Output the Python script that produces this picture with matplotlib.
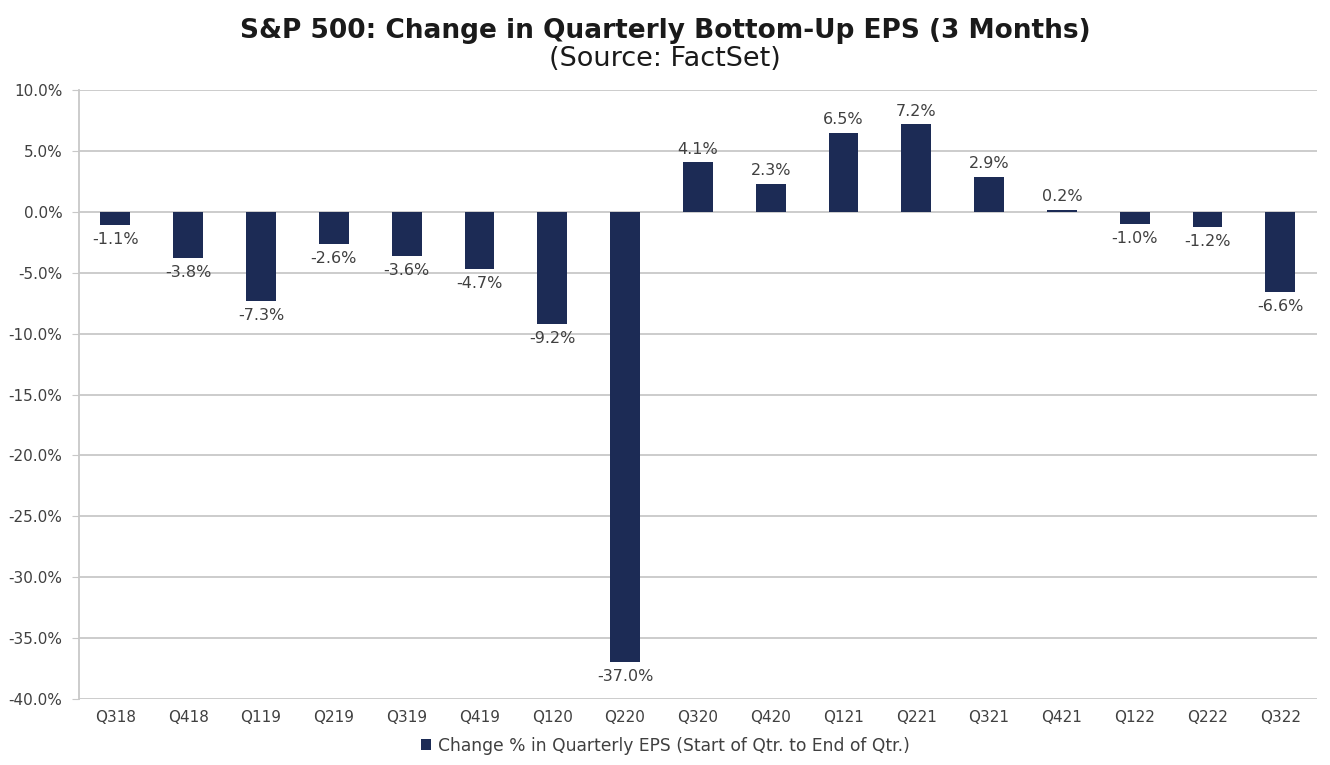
import matplotlib.pyplot as plt
from matplotlib.ticker import FuncFormatter

quarters = ["Q318", "Q418", "Q119", "Q219", "Q319", "Q419", "Q120", "Q220", "Q320",
            "Q420", "Q121", "Q221", "Q321", "Q421", "Q122", "Q222", "Q322"]
eps_change = [-1.1, -3.8, -7.3, -2.6, -3.6, -4.7, -9.2, -37.0, 4.1,
              2.3, 6.5, 7.2, 2.9, 0.2, -1.0, -1.2, -6.6]
y_ticks = [10, 5, 0, -5, -10, -15, -20, -25, -30, -35, -40]

# the source image is a bit stretched sideways, DejaVu is wider than Arial
plt.rcParams["font.family"] = ["DejaVu Sans"]

bar_color = "#1c2b55"
grid_color = "#c8c8c8"
text_color = "#404040"

fig = plt.figure(figsize=(13.3, 7.65), dpi=100)
ax = fig.add_axes([0.0594, 0.0863, 0.9306, 0.7957])

x = list(range(len(quarters)))
ax.bar(x, eps_change, width=0.41, color=bar_color, zorder=3,
       label="Change % in Quarterly EPS (Start of Qtr. to End of Qtr.)")

for xi, v in zip(x, eps_change):
    if v >= 0:
        ax.annotate(f"{v:.1f}%", (xi, v), xytext=(0, 4), textcoords="offset points",
                    ha="center", va="bottom", fontsize=11.5, color=text_color)
    else:
        ax.annotate(f"{v:.1f}%", (xi, v), xytext=(0, -5), textcoords="offset points",
                    ha="center", va="top", fontsize=11.5, color=text_color)

ax.set_ylim(-40, 10)
ax.set_xlim(-0.5, len(quarters) - 0.5)
ax.set_yticks(y_ticks)
ax.yaxis.set_major_formatter(FuncFormatter(lambda v, _: f"{v:.1f}%"))
ax.set_xticks(x)
ax.set_xticklabels(quarters)
ax.tick_params(axis="both", labelsize=11, colors=text_color, length=0, pad=8)
ax.tick_params(axis="y", length=5, color=grid_color, pad=7)

ax.grid(axis="y", color=grid_color, linewidth=1.3, zorder=0)
for side in ["top", "right", "bottom"]:
    ax.spines[side].set_visible(False)
ax.spines["left"].set_color(grid_color)
ax.spines["left"].set_linewidth(1.3)

fig.text(0.5, 0.960, "S&P 500: Change in Quarterly Bottom-Up EPS (3 Months)",
         ha="center", va="center", fontsize=19, fontweight="bold", color="#1a1a1a")
fig.text(0.5, 0.923, "(Source: FactSet)", ha="center", va="center",
         fontsize=19.5, color="#1a1a1a")

fig.legend(loc="center", bbox_to_anchor=(0.5, 0.025), frameon=False, fontsize=12.3,
           handlelength=0.6, handleheight=0.6, handletextpad=0.4, labelcolor=text_color)

fig.savefig("out.png", dpi=100)
